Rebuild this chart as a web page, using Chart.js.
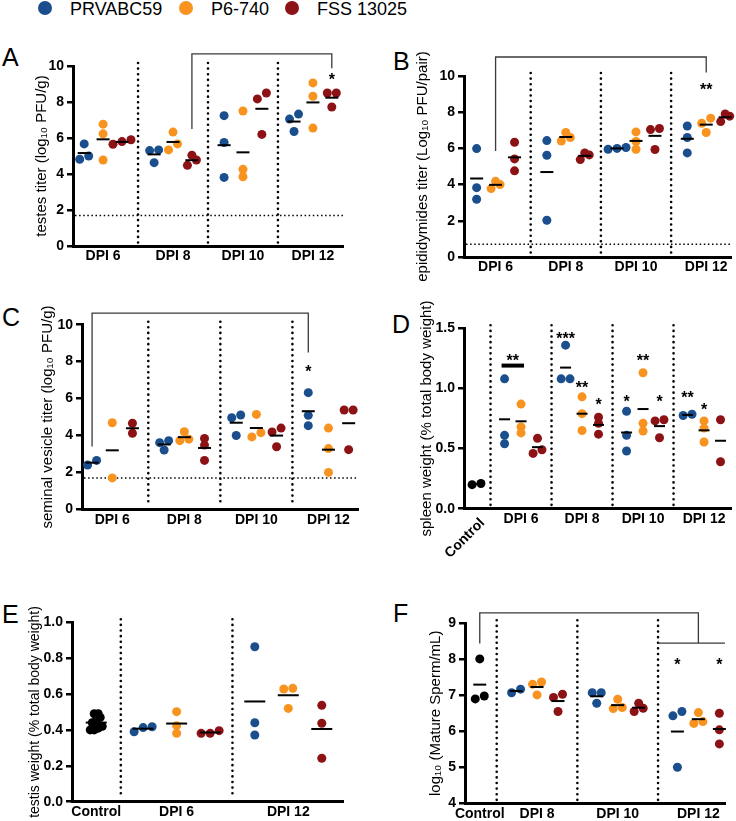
<!DOCTYPE html>
<html lang="en">
<head>
<meta charset="UTF-8">
<title>Zika strains - male reproductive tract</title>
<style>
  * { margin: 0; padding: 0; box-sizing: border-box; }
  body {
    width: 736px; height: 821px; position: relative; overflow: hidden;
    background: #fff; color: #000;
    font-family: 'Liberation Sans', Arial, Helvetica, sans-serif;
  }
  .panel { position: absolute; }
  .letter { position: absolute; font-size: 25px; line-height: 25px; }
  .key { position: absolute; top: 0; font-size: 18px; line-height: 18px; white-space: nowrap; }
  .dot { position: absolute; top: 1px; width: 14px; height: 14px; border-radius: 50%; }
</style>
</head>
<body>

<!-- legend -->
<span class="dot" style="left:38px;background:#1b4e8d"></span><span class="key" style="left:70px">PRVABC59</span>
<span class="dot" style="left:179px;background:#f7931e"></span><span class="key" style="left:211px">P6-740</span>
<span class="dot" style="left:285px;background:#8c1216"></span><span class="key" style="left:317px">FSS 13025</span>

<div class="letter" style="left:2px;top:45px">A</div>
<div class="letter" style="left:393px;top:49px">B</div>
<div class="letter" style="left:2px;top:305px">C</div>
<div class="letter" style="left:392px;top:312px">D</div>
<div class="letter" style="left:2px;top:602px">E</div>
<div class="letter" style="left:393px;top:601px">F</div>

<div class="panel" id="boxA"><canvas id="chartA"></canvas></div>
<div class="panel" id="boxB"><canvas id="chartB"></canvas></div>
<div class="panel" id="boxC"><canvas id="chartC"></canvas></div>
<div class="panel" id="boxD"><canvas id="chartD"></canvas></div>
<div class="panel" id="boxE"><canvas id="chartE"></canvas></div>
<div class="panel" id="boxF"><canvas id="chartF"></canvas></div>

<script src="https://cdn.jsdelivr.net/npm/chart.js"></script>
<script>
// ---------- data ----------
const strains = ['PRVABC59', 'P6-740', 'FSS 13025'];
const strainColors = ['#1b4e8d', '#f7931e', '#8c1216'];

const dpi4 = ['DPI 6', 'DPI 8', 'DPI 10', 'DPI 12'];
const spleenDays = ['Control', 'DPI 6', 'DPI 8', 'DPI 10', 'DPI 12'];
const testisDays = ['Control', 'DPI 6', 'DPI 12'];
const spermDays = ['Control', 'DPI 8', 'DPI 10', 'DPI 12'];

// A: testes titer (log10 PFU/g), one inner list per day
const testesPRV = [[4.82, 5.67, 5.0], [5.34, 5.3, 4.63], [7.24, 5.75, 3.81], [7.33, 7.05, 6.36]];
const testesP6 = [[6.77, 6.23, 4.78], [6.33, 5.67, 5.34], [7.5, 4.26, 3.85], [9.06, 8.32, 6.55]];
const testesFSS = [[5.9, 5.8, 5.65], [5.04, 4.78, 4.48], [8.5, 8.17, 6.2], [8.5, 8.5, 7.72]];
const testesLOD = 1.7;

// B: epididymides titer (log10 PFU/pair)
const epiPRV = [[5.99, 3.83, 3.19], [6.43, 5.62, 2.03], [6.05, 6.0, 5.95], [7.24, 6.6, 5.75]];
const epiP6 = [[4.18, 4.0, 3.78], [6.88, 6.6, 6.41], [6.91, 6.38, 5.95], [7.67, 7.39, 6.88]];
const epiFSS = [[6.34, 5.42, 4.76], [5.75, 5.64, 5.38], [7.1, 7.04, 5.94], [7.9, 7.78, 7.48]];
const epiLOD = 0.7;

// C: seminal vesicle titer (log10 PFU/g)
const svPRV = [[2.4, 2.65], [3.72, 3.61, 3.21], [5.11, 4.96, 4.0], [6.32, 5.09, 4.53]];
const svP6 = [[4.69, 1.7], [4.2, 3.8, 3.72], [5.14, 4.15, 3.92], [4.4, 3.29, 2.0]];
const svFSS = [[4.66, 4.12], [3.84, 3.48, 2.65], [4.4, 4.19, 3.39], [5.38, 5.38, 3.23]];
const svLOD = 1.7;

// D: spleen weight (% body weight)
const spleenControl = [0.2, 0.21];
const spleenPRV = [[1.08, 0.61, 0.54], [1.36, 1.08, 1.08], [0.81, 0.61, 0.48], [0.775, 0.785]];
const spleenP6 = [[0.87, 0.68, 0.63], [0.93, 0.79, 0.65], [1.13, 0.71, 0.646], [0.73, 0.67, 0.555]];
const spleenFSS = [[0.585, 0.49, 0.46], [0.76, 0.71, 0.62], [0.74, 0.73, 0.59], [0.74, 0.39]];

// E: testis weight (% body weight)
const testisControl = [0.49, 0.49, 0.47, 0.45, 0.44, 0.42, 0.41, 0.40, 0.40];
const testisPRV = [[0.418, 0.39, 0.413], [0.864, 0.44, 0.372]];
const testisP6 = [[0.502, 0.424, 0.381], [0.632, 0.628, 0.52]];
const testisFSS = [[0.396, 0.381, 0.381], [0.537, 0.437, 0.242]];

// F: log10 mature sperm / mL
const spermControl = [8.01, 6.9, 6.98];
const spermPRV = [[7.07, 7.17], [7.07, 7.07, 6.78], [6.55, 6.43, 5.0]];
const spermP6 = [[7.37, 7.31, 7.01], [6.89, 6.66, 6.63], [6.52, 6.27, 6.22]];
const spermFSS = [[7.03, 6.94, 6.55], [6.78, 6.64, 6.55], [6.5, 6.04, 5.65]];

// significance marks: category index, strain index, height, text
const testesStars = [{cat: 3, strain: 2, y: 9.4, text: '*'}];
const epiStars = [{cat: 3, strain: 1, y: 9.4, text: '**'}];
const svStars = [{cat: 3, strain: 0, y: 7.65, text: '*'}];
const spleenStars = [
  {cat: 1, strain: 0.5, y: 1.26, text: '**'},
  {cat: 2, strain: 0, y: 1.44, text: '***'}, {cat: 2, strain: 1, y: 1.03, text: '**'}, {cat: 2, strain: 2, y: 0.89, text: '*'},
  {cat: 3, strain: 0, y: 0.92, text: '*'}, {cat: 3, strain: 1, y: 1.26, text: '**'}, {cat: 3, strain: 2, y: 0.92, text: '*'},
  {cat: 4, strain: 0, y: 0.95, text: '**'}, {cat: 4, strain: 1, y: 0.85, text: '*'}
];
const spermStars = [{cat: 3, strain: 0, y: 7.95, text: '*'}, {cat: 3, strain: 2, y: 7.95, text: '*'}];

// comparison brackets: [cat, strain, lower end], top height
const testesBrackets = [{from: [1, 2, 6.5], to: [3, 2, 9.87], top: 10.67}];
const epiBrackets = [{from: [0, 1, 5.85], to: [3, 1, 10.2], top: 11.05}];
const svBrackets = [{from: [0, 0, 3.4], to: [3, 0, 8.5], top: 10.63}];
const spermBrackets = [{from: [0, null, 8.44], to: [3, null, 8.45], top: 9.29}];

// ---------- layout per panel ----------
const panels = [
  {id: 'A', box: [20, 40, 333, 234], padTop: 26, padRight: 10, wY: 53, hX: 28, titlePad: 13, titleSize: 15,
   title: 'testes titer (log\u2081\u2080 PFU/g)', y: [0, 10, 2, 0], x: [-0.43, 3.43],
   labels: dpi4, catX: [0, 1, 2, 3], series: [testesPRV, testesP6, testesFSS], spread: 0.27,
   lod: testesLOD, meanHW: 6.5, stars: testesStars, brackets: testesBrackets},
  {id: 'B', box: [405, 40, 331, 245], padTop: 36, padRight: 3, wY: 59, hX: 28, titlePad: 9, titleSize: 15,
   title: 'epididymides titer (Log\u2081\u2080 PFU/pair)', y: [0, 10, 2, 0], x: [-0.45, 3.36],
   labels: dpi4, catX: [0, 1, 2, 3], series: [epiPRV, epiP6, epiFSS], spread: 0.27,
   lod: epiLOD, meanHW: 6.5, stars: epiStars, brackets: epiBrackets},
  {id: 'C', box: [25, 300, 341, 237.3], padTop: 24.7, padRight: 8, wY: 57, hX: 28, titlePad: 14, titleSize: 15,
   title: 'seminal vesicle titer (log\u2081\u2080 PFU/g)', y: [0, 10, 2, 0], x: [-0.42, 3.41],
   labels: dpi4, catX: [0, 1, 2, 3], series: [svPRV, svP6, svFSS], spread: 0.28,
   lod: svLOD, meanHW: 6.5, stars: svStars, brackets: svBrackets},
  {id: 'D', box: [405, 300, 331, 270], padTop: 28.3, padRight: 0, wY: 59, hX: 61.3, titlePad: 13, titleSize: 15,
   title: 'spleen weight (% total body weight)', y: [0, 1.5, 0.5, 1], x: [0.065, 4.45],
   labels: spleenDays, catX: [0.27, 1, 2, 3, 4], control: spleenControl, rotateControl: true,
   series: [spleenPRV, spleenP6, spleenFSS], spread: 0.27, meanHW: 5.5, stars: spleenStars,
   bars: [{cat: 1, from: 0, to: 1, y: 1.19}]},
  {id: 'E', box: [15, 600, 340, 221], padTop: 22.3, padRight: 12, wY: 57, hX: 19.3, titlePad: 11.5, titleSize: 14,
   title: 'testis weight (% total body weight)', y: [0, 1.0, 0.2, 1], x: [0.063, 2.49],
   labels: testisDays, catX: [0.28, 1, 2], control: testisControl, controlGap: 4,
   series: [testisPRV, testisP6, testisFSS], spread: 0.3, meanHW: 10.5},
  {id: 'F', box: [405, 595, 331, 226], padTop: 28.3, padRight: 11, wY: 60, hX: 17.7, titlePad: 22, titleSize: 15,
   title: 'log\u2081\u2080 (Mature Sperm/mL)', y: [4, 9, 1, 0], x: [0.107, 3.33],
   labels: spermDays, catX: [0.29, 1, 2, 3], control: spermControl,
   series: [spermPRV, spermP6, spermFSS], spread: 0.26, meanHW: 6.5, stars: spermStars,
   brackets: spermBrackets, subLine: {cat: 3, y: 8.45}}
];

const FONT = "'Liberation Sans', Arial, Helvetica, sans-serif";

function catPos(p, cat, strain) {
  if (strain == null) return p.catX[cat];
  return p.catX[cat] + (strain - 1) * p.spread;
}

// GraphPad-like column scatter: points close in y share a row and are spread sideways
function swarm(values, xc, pxX, pxY, gap) {
  const order = values.map((v, i) => i).sort((a, b) => values[a] - values[b]);
  const rows = [];
  order.forEach(i => {
    const row = rows[rows.length - 1];
    if (row && (values[i] - values[row[0]]) * pxY < 6) row.push(i);
    else rows.push([i]);
  });
  const pts = new Array(values.length);
  rows.forEach(row => {
    row.forEach((i, k) => {
      const off = (k - (row.length - 1) / 2) * gap;
      pts[i] = {x: xc + off / pxX, y: values[i]};
    });
  });
  return pts;
}

function mean(arr) { return arr.reduce((s, v) => s + v, 0) / arr.length; }

function decor(p) {
  return {
    id: 'decor' + p.id,
    beforeDatasetsDraw(chart) {
      const {ctx, chartArea: a, scales: {x, y}} = chart;
      ctx.save();
      ctx.strokeStyle = '#000';
      // dotted separators between days
      ctx.lineWidth = 2.6;
      ctx.lineCap = 'round';
      ctx.setLineDash([0.01, 5.6]);
      p.catX.forEach((c, i) => {
        if (i === 0) return;
        const px = x.getPixelForValue(Math.round(c) - 0.5);
        ctx.beginPath();
        ctx.moveTo(px, a.top - 3);
        ctx.lineTo(px, a.bottom - 3);
        ctx.stroke();
      });
      // limit of detection
      if (p.lod != null) {
        ctx.lineCap = 'butt';
        ctx.lineWidth = 1.5;
        ctx.setLineDash([1.5, 2.6]);
        const py = y.getPixelForValue(p.lod);
        ctx.beginPath();
        ctx.moveTo(a.left + 2, py);
        ctx.lineTo(a.right, py);
        ctx.stroke();
      }
      ctx.restore();
    },
    afterDatasetsDraw(chart) {
      const {ctx, chartArea: a, scales: {x, y}} = chart;
      ctx.save();
      // group means
      ctx.fillStyle = '#000';
      p.means.forEach(m => {
        const px = x.getPixelForValue(m.x), py = y.getPixelForValue(m.y);
        ctx.fillRect(px - p.meanHW, py - 1, p.meanHW * 2, 2);
      });
      // brackets
      ctx.strokeStyle = '#3a3a3a';
      ctx.lineWidth = 1.3;
      (p.brackets || []).forEach(b => {
        const x1 = x.getPixelForValue(catPos(p, b.from[0], b.from[1]));
        const x2 = x.getPixelForValue(catPos(p, b.to[0], b.to[1]));
        const yt = y.getPixelForValue(b.top);
        ctx.beginPath();
        ctx.moveTo(x1, y.getPixelForValue(b.from[2]));
        ctx.lineTo(x1, yt);
        ctx.lineTo(x2, yt);
        ctx.lineTo(x2, y.getPixelForValue(b.to[2]));
        ctx.stroke();
      });
      if (p.subLine) {
        const py = y.getPixelForValue(p.subLine.y);
        ctx.beginPath();
        ctx.moveTo(x.getPixelForValue(p.catX[p.subLine.cat] - 0.5), py);
        ctx.lineTo(a.right, py);
        ctx.stroke();
      }
      // thick bar under a significance mark
      (p.bars || []).forEach(b => {
        const x1 = x.getPixelForValue(catPos(p, b.cat, b.from)) - 3;
        const x2 = x.getPixelForValue(catPos(p, b.cat, b.to)) + 3;
        ctx.fillStyle = '#000';
        ctx.fillRect(x1, y.getPixelForValue(b.y) - 2, x2 - x1, 4);
      });
      // stars
      ctx.fillStyle = '#000';
      ctx.font = 'bold 16px ' + FONT;
      ctx.textAlign = 'center';
      ctx.textBaseline = 'alphabetic';
      (p.stars || []).forEach(s => {
        const m = ctx.measureText(s.text);
        const py = y.getPixelForValue(s.y) + (m.actualBoundingBoxAscent - m.actualBoundingBoxDescent) / 2;
        ctx.fillText(s.text, x.getPixelForValue(catPos(p, s.cat, s.strain)), py);
      });
      // rotated control label
      if (p.rotateControl) {
        ctx.font = 'bold 14px ' + FONT;
        ctx.translate(x.getPixelForValue(p.catX[0]) + 6, a.bottom + 12);
        ctx.rotate(-Math.PI / 4);
        ctx.textAlign = 'right';
        ctx.textBaseline = 'middle';
        ctx.fillText(p.labels[0], 0, 0);
      }
      ctx.restore();
    }
  };
}

panels.forEach(p => {
  const [left, top, w, h] = p.box;
  const holder = document.getElementById('box' + p.id);
  Object.assign(holder.style, {left: left + 'px', top: top + 'px', width: w + 'px', height: h + 'px'});

  const pxX = (w - p.wY - p.padRight) / (p.x[1] - p.x[0]);
  const pxY = (h - p.padTop - p.hX) / (p.y[1] - p.y[0]);
  const off = p.control ? 1 : 0;
  const datasets = [];
  p.means = [];

  if (p.control) {
    datasets.push({label: 'Control', data: swarm(p.control, p.catX[0], pxX, pxY, p.controlGap || 9),
                   backgroundColor: '#000'});
    p.means.push({x: p.catX[0], y: mean(p.control)});
  }
  p.series.forEach((groups, s) => {
    const pts = [];
    groups.forEach((vals, j) => {
      const xc = catPos(p, j + off, s);
      pts.push(...swarm(vals, xc, pxX, pxY, 9));
      p.means.push({x: xc, y: mean(vals)});
    });
    datasets.push({label: strains[s], data: pts, backgroundColor: strainColors[s]});
  });

  const dec = p.y[3];
  new Chart(document.getElementById('chart' + p.id), {
    type: 'scatter',
    data: {datasets: datasets},
    options: {
      responsive: true,
      maintainAspectRatio: false,
      animation: false,
      events: [],
      clip: false,
      layout: {padding: {top: p.padTop, right: p.padRight, left: 0, bottom: 0}},
      elements: {point: {radius: 4.5, borderWidth: 0, hoverRadius: 4.5}},
      plugins: {legend: {display: false}, tooltip: {enabled: false}},
      scales: {
        x: {
          type: 'linear', min: p.x[0], max: p.x[1],
          afterFit: s => { s.height = p.hX; },
          afterBuildTicks: s => { s.ticks = p.catX.map(v => ({value: v})); },
          ticks: {
            autoSkip: false, maxRotation: 0, minRotation: 0, padding: 2, color: '#000',
            font: {family: FONT, size: 14, weight: 'bold'},
            callback: (v, i) => (p.rotateControl && i === 0) ? '' : p.labels[i]
          },
          grid: {display: false, drawTicks: false},
          border: {display: true, width: 3, color: '#000'}
        },
        y: {
          min: p.y[0], max: p.y[1],
          afterFit: s => { s.width = p.wY; },
          ticks: {
            stepSize: p.y[2], padding: 3, color: '#000',
            font: {family: FONT, size: 14, weight: 'bold'},
            callback: v => v.toFixed(dec)
          },
          grid: {display: true, drawOnChartArea: false, drawTicks: true, tickLength: 6,
                 lineWidth: 2.5, color: '#000'},
          border: {display: true, width: 3, color: '#000'},
          title: {display: true, text: p.title, color: '#000',
                  font: {family: FONT, size: p.titleSize}, padding: {top: p.titlePad, bottom: 0}}
        }
      }
    },
    plugins: [decor(p)]
  });
});
</script>
</body>
</html>
